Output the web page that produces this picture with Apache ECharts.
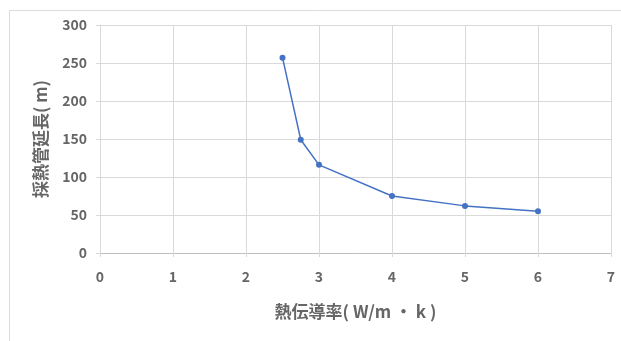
<!DOCTYPE html>
<html>
<head>
<meta charset="utf-8">
<script src="https://cdn.jsdelivr.net/npm/echarts@6/dist/echarts.min.js"></script>
<style>
html,body{margin:0;padding:0;background:#fff;}
#chart{width:621px;height:341px;}
</style>
</head>
<body>
<div id="chart"></div>
<script>
// thermal conductivity (W/m·k) vs. required heat-exchange pipe length (m)
const conductivity = [2.5, 2.75, 3, 4, 5, 6];
const pipeLength = [257, 149, 116, 75, 62, 55];
const xTicks = [0, 1, 2, 3, 4, 5, 6, 7];
const yTicks = [0, 50, 100, 150, 200, 250, 300];

const font = '"Noto Sans CJK JP", "Noto Sans", sans-serif';
const textColor = '#666666';
const chart = echarts.init(document.getElementById('chart'), null, {renderer: 'canvas'});

chart.setOption({
  animation: false,
  backgroundColor: '#fff',
  graphic: [{
    type: 'rect',
    shape: {x: 9.5, y: 10.5, width: 700, height: 400},
    style: {fill: 'none', stroke: '#dcdcdc', lineWidth: 1},
    silent: true
  }],
  grid: {left: 100, right: 10, top: 25, bottom: 88, containLabel: false},
  xAxis: {
    type: 'value',
    min: xTicks[0],
    max: xTicks[xTicks.length - 1],
    interval: 1,
    name: '熱伝導率( W/m ・ k )',
    nameLocation: 'middle',
    nameGap: 50,
    nameTextStyle: {fontFamily: font, fontSize: 17, fontWeight: 'bold', color: textColor},
    axisLine: {show: true, lineStyle: {color: '#bfbfbf', width: 1}},
    axisTick: {show: true, length: 4, lineStyle: {color: '#d9d9d9'}},
    axisLabel: {fontFamily: font, fontSize: 14, fontWeight: 'bold', color: textColor, margin: 17},
    splitLine: {show: true, lineStyle: {color: '#d9d9d9', width: 1}}
  },
  yAxis: {
    type: 'value',
    min: yTicks[0],
    max: yTicks[yTicks.length - 1],
    interval: 50,
    name: '採熱管延長( m)',
    nameLocation: 'middle',
    nameGap: 51,
    nameRotate: 90,
    nameTextStyle: {fontFamily: font, fontSize: 17, fontWeight: 'bold', color: textColor},
    axisLine: {show: true, lineStyle: {color: '#d9d9d9', width: 1}},
    axisTick: {show: true, length: 4, lineStyle: {color: '#d9d9d9'}},
    axisLabel: {fontFamily: font, fontSize: 14, fontWeight: 'bold', color: textColor, margin: 13},
    splitLine: {show: true, lineStyle: {color: '#d9d9d9', width: 1}}
  },
  series: [{
    type: 'line',
    data: conductivity.map((c, i) => [c, pipeLength[i]]),
    symbol: 'circle',
    symbolSize: 6,
    lineStyle: {color: '#4472c4', width: 1.5},
    itemStyle: {color: '#4472c4'}
  }]
});
</script>
</body>
</html>
